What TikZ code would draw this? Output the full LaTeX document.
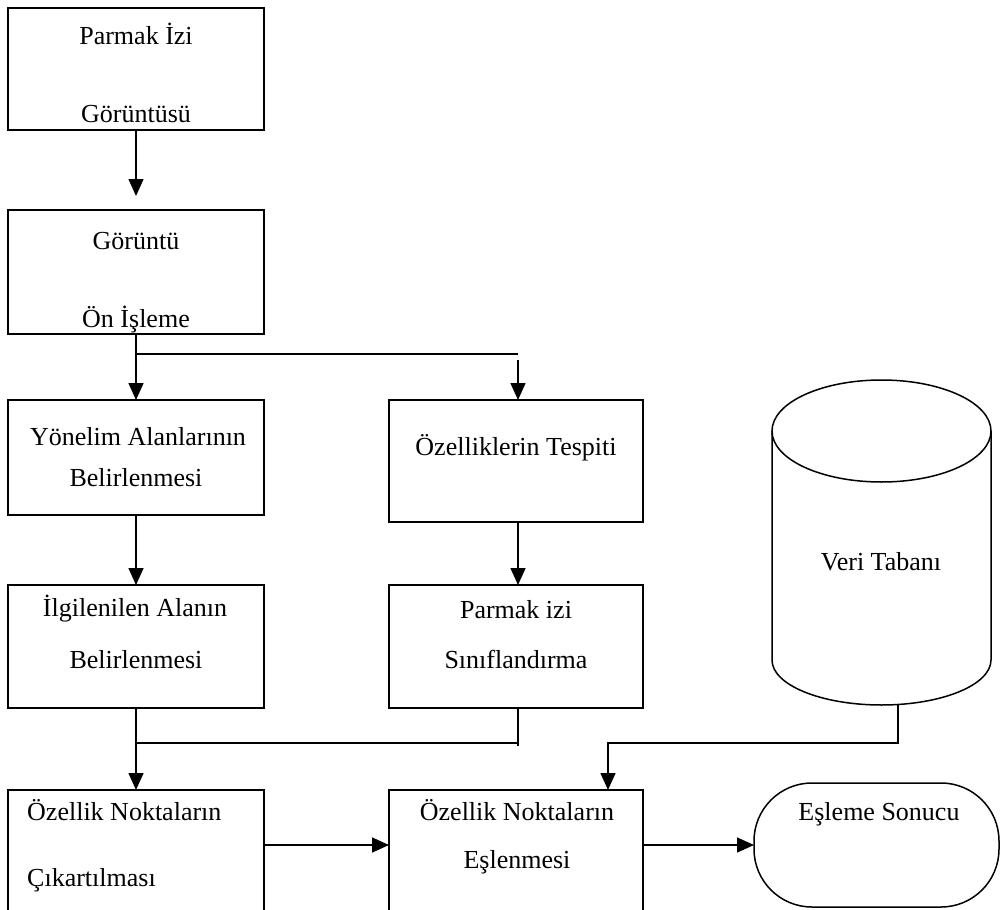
\documentclass[tikz,border=0pt]{standalone}
\usepackage{fontspec}
\setmainfont{Liberation Serif}
\usetikzlibrary{arrows.meta}
\tikzset{
  box/.style={draw, line width=1.5pt, inner sep=0pt, outer sep=0pt},
  txt/.style={anchor=base, inner sep=0pt, font=\fontsize{26}{31}\selectfont},
  txtl/.style={txt, anchor=base west},
  ln/.style={line width=1.5pt},
  arr/.style={ln, -{Triangle[width=15pt,length=17pt]}},
}
\begin{document}
\begin{tikzpicture}[x=1pt,y=-1pt]
\useasboundingbox (0,0) rectangle (1002,910);
\clip (0,0) rectangle (1002,910);
\fill[white] (0,0) rectangle (1002,910);
% boxes
\node[box, minimum width=256pt, minimum height=122pt] (b1) at (136,69) {};
\node[box, minimum width=256pt, minimum height=124pt] (b2) at (136,272) {};
\node[box, minimum width=256pt, minimum height=115pt] (b3) at (136,457.5) {};
\node[box, minimum width=254pt, minimum height=122pt] (b4) at (516,461) {};
\node[box, minimum width=256pt, minimum height=123pt] (b5) at (136,646.5) {};
\node[box, minimum width=254pt, minimum height=123pt] (b6) at (516,646.5) {};
\node[box, minimum width=256pt, minimum height=150pt] (b7) at (136,865) {};
\node[box, minimum width=254pt, minimum height=150pt] (b8) at (516,865) {};
\node[box, rounded corners=58pt, minimum width=245pt, minimum height=124pt] (res) at (876.5,845) {};
% database cylinder
\draw[ln] (881.5,431) ellipse [x radius=109.5pt, y radius=51pt];
\draw[ln] (772,431) -- (772,660) arc[start angle=180, end angle=360, x radius=109.5pt, y radius=45pt] -- (991,431);
\coordinate (db) at (898,705);
% texts
\node[txt] (t1a) at (136,45) {Parmak İzi};
\node[txt] (t1b) at (136,122) {Görüntüsü};
\node[txt] (t2a) at (136,249) {Görüntü};
\node[txt] (t2b) at (136,327) {Ön İşleme};
\node[txt] (t3a) at (138,445) {Yönelim Alanlarının};
\node[txt] (t3b) at (136,486) {Belirlenmesi};
\node[txt] (t4) at (516,455) {Özelliklerin Tespiti};
\node[txt] (t5a) at (135,616) {İlgilenilen Alanın};
\node[txt] (t5b) at (136,668) {Belirlenmesi};
\node[txt] (t6a) at (516,618) {Parmak izi};
\node[txt] (t6b) at (516,668) {Sınıflandırma};
\node[txt] (tdb) at (881,570) {Veri Tabanı};
\node[txtl] (t7a) at (27,820) {Özellik Noktaların};
\node[txtl] (t7b) at (27,886) {Çıkartılması};
\node[txt] (t8a) at (517,820) {Özellik Noktaların};
\node[txt] (t8b) at (517,868) {Eşlenmesi};
\node[txt] (tres) at (879,820) {Eşleme Sonucu};
% connectors
\coordinate (s1) at (136,354);
\coordinate (s2) at (518,354);
\coordinate (s3) at (136,743);
\coordinate (s4) at (518,743);
\coordinate (d8) at (608,743);
\draw[arr] (b1.south) -- ([yshift=14pt]b2.north);
\draw[ln] (b2.south) -- (s1) -- (s2);
\draw[arr] (s1) -- (b3.north);
\draw[arr] ([yshift=-6pt]s2) -- (b4.north -| s2);
\draw[arr] (b3.south) -- (b5.north);
\draw[arr] (b4.south -| s2) -- (b6.north -| s2);
\draw[arr] (b5.south) -- (b7.north);
\draw[ln] (s3) -- (s4);
\draw[ln] (b6.south -| s4) -- ([yshift=-3pt]s4);
\draw[arr] (db) |- (d8) -- (b8.north -| d8);
\draw[arr] (b7.east |- res.west) -- (b8.west |- res.west);
\draw[arr] (b8.east |- res.west) -- (res.west);
\end{tikzpicture}
\end{document}
